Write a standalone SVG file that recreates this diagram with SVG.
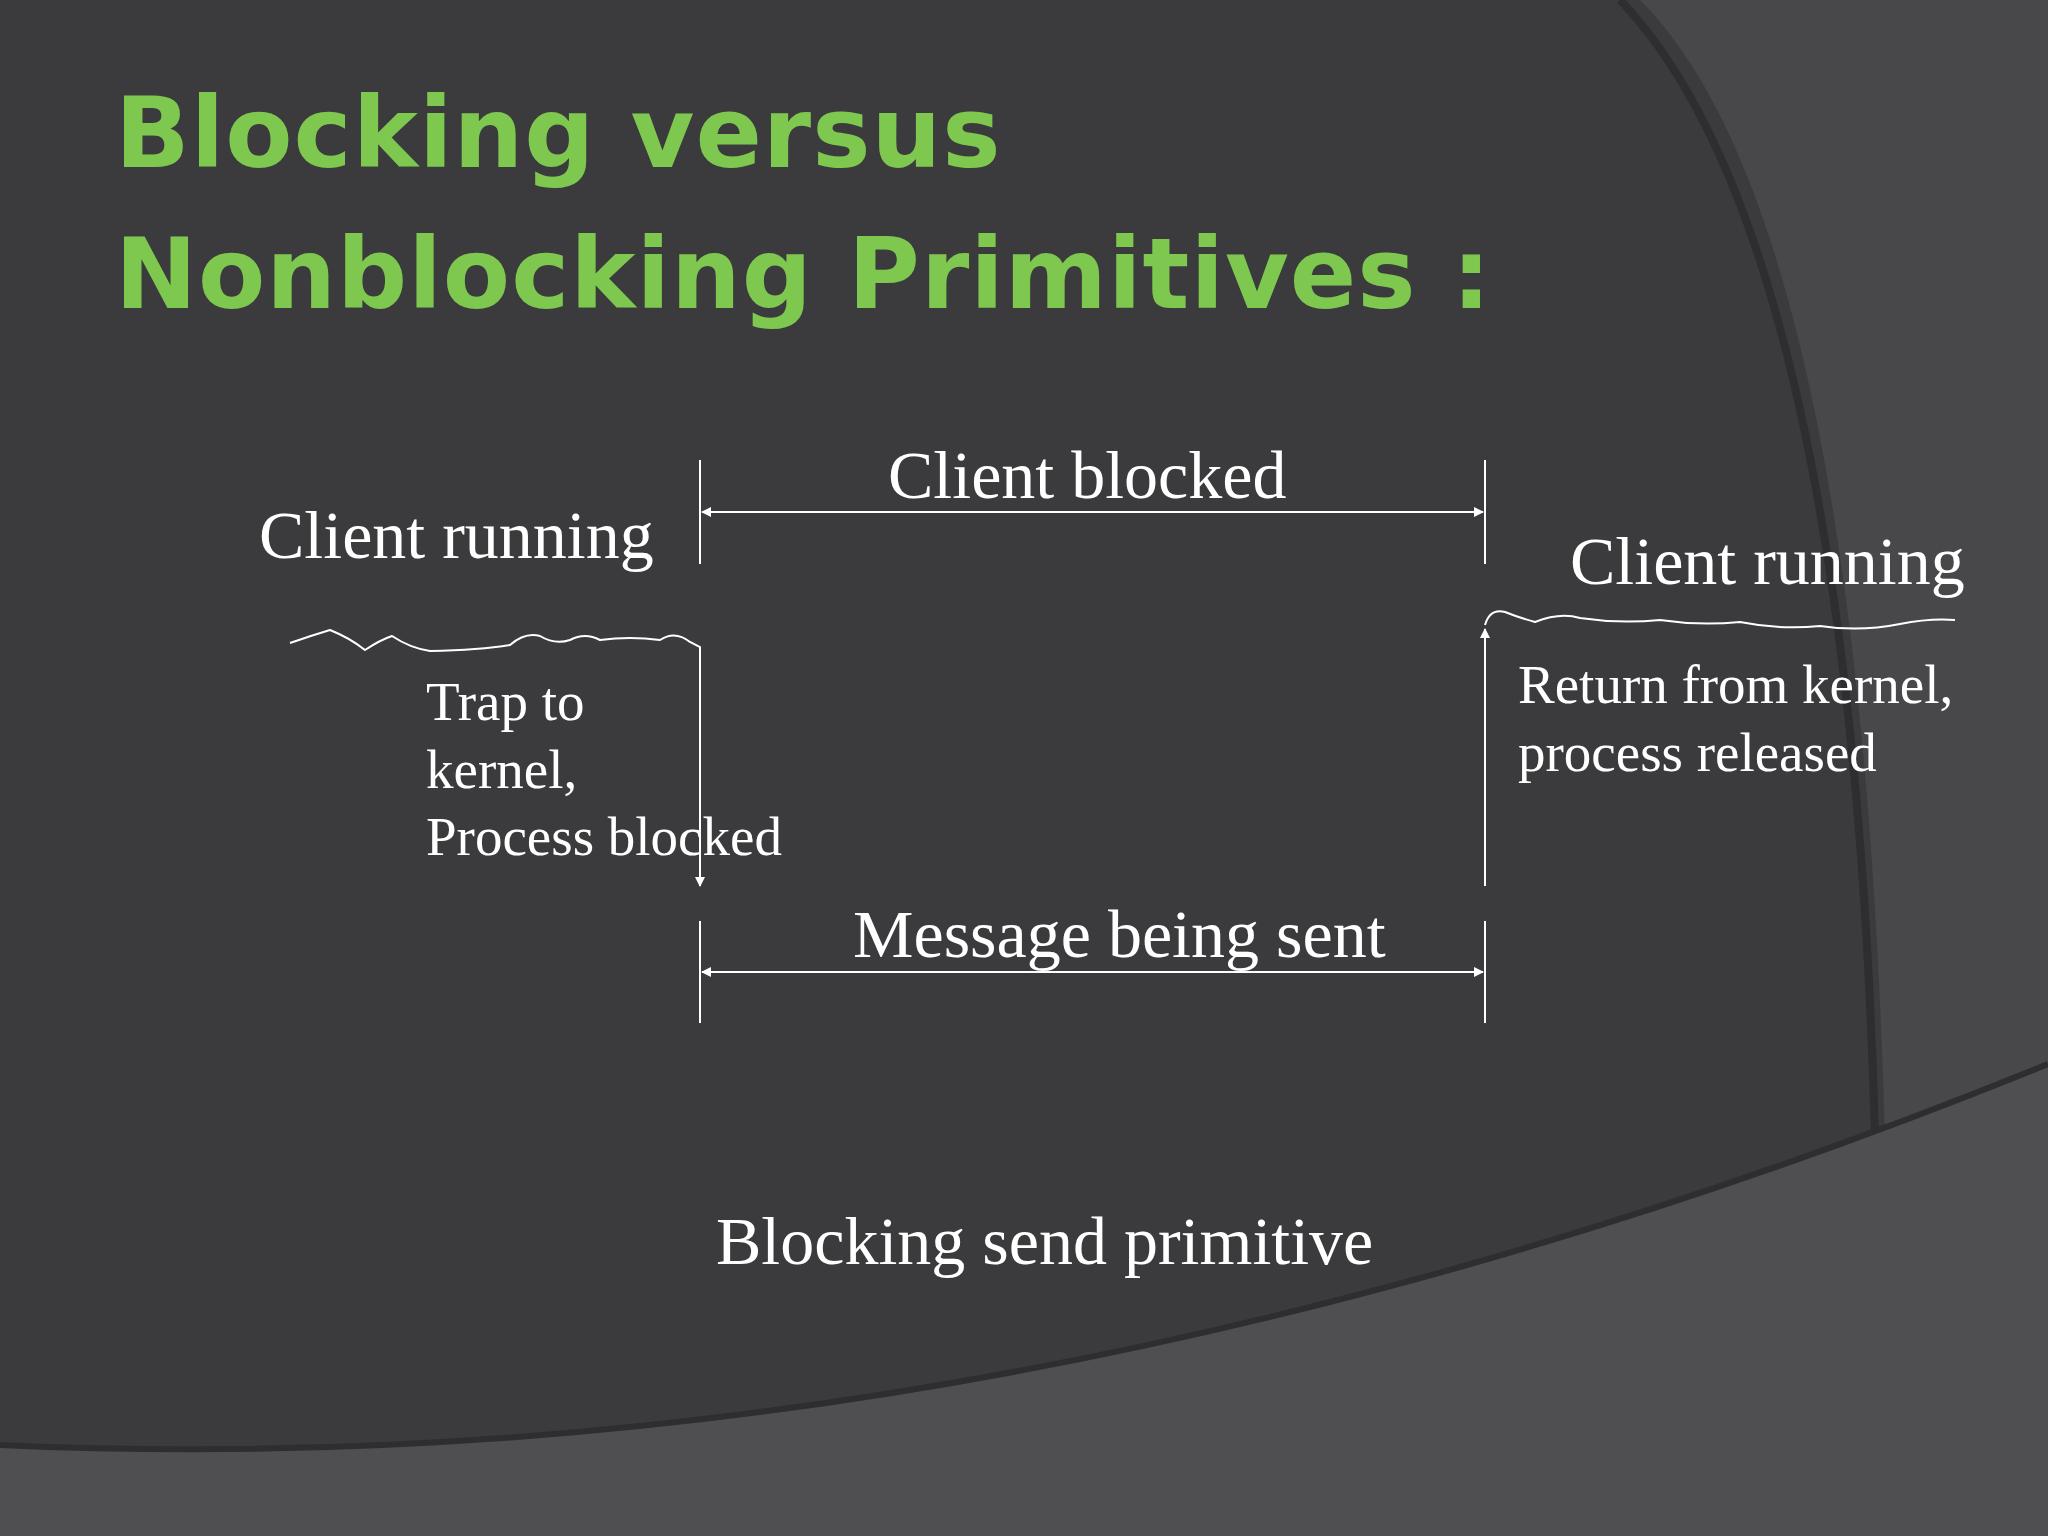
<svg xmlns="http://www.w3.org/2000/svg" width="2048" height="1536" viewBox="0 0 2048 1536">
<defs>
<marker id="ah" markerWidth="10" markerHeight="10" refX="9" refY="5" orient="auto" markerUnits="userSpaceOnUse"><path d="M0,0 L10,5 L0,10 z" fill="#fff"/></marker>
<style>
.t{font-family:"Liberation Serif",serif;fill:#fff}
.h{font-family:"DejaVu Sans","Liberation Sans",sans-serif;fill:#7ec850;font-size:98px;font-weight:bold;letter-spacing:1px}
.l{stroke:#fff;stroke-width:2;fill:none}
</style>
</defs>
<rect width="2048" height="1536" fill="#3b3b3d"/>
<path d="M1640,0 Q1860,220 1885,1140 L2048,1070 L2048,0 Z" fill="#48484a"/>
<path d="M1620,0 Q1850,240 1875,1136" stroke="#2e2e30" stroke-width="8" fill="none"/>
<path d="M0,1445 Q1000,1490 2048,1064 L2048,1536 L0,1536 Z" fill="#4f4f51"/>
<path d="M0,1445 Q1000,1490 2048,1064" stroke="#2e2e30" stroke-width="6" fill="none"/>
<text class="h" x="115" y="167">Blocking versus</text>
<text class="h" x="115" y="308">Nonblocking Primitives :</text>
<g id="connectors">
<line class="l" x1="700" y1="460" x2="700" y2="564"/>
<line class="l" x1="1485" y1="460" x2="1485" y2="564"/>
<path class="l" d="M702,512 L1483,512" marker-end="url(#ah)"/>
<path class="l" d="M1483,512 L702,512" marker-end="url(#ah)"/>
<line class="l" x1="700" y1="921" x2="700" y2="1023"/>
<line class="l" x1="1485" y1="921" x2="1485" y2="1023"/>
<path class="l" d="M702,972 L1483,972" marker-end="url(#ah)"/>
<path class="l" d="M1483,972 L702,972" marker-end="url(#ah)"/>
<path class="l" d="M290,643 Q310,636 330,630 Q350,638 365,650 Q380,640 392,636 Q410,648 430,651 Q480,650 510,645 Q525,632 540,636 Q555,645 570,640 Q585,632 600,640 Q630,636 660,640 Q675,630 690,642 L700,647 L700,886" marker-end="url(#ah)"/>
<path class="l" d="M1485,886 L1485,629" marker-end="url(#ah)"/>
<path class="l" d="M1485,625 Q1490,608 1505,612 Q1520,618 1535,622 Q1560,612 1580,618 Q1620,624 1660,620 Q1700,626 1740,622 Q1780,630 1820,626 Q1860,632 1900,624 Q1930,618 1955,620"/>
</g>
<g id="labels">
<text class="t" x="259" y="558" font-size="68">Client running</text>
<text class="t" x="888" y="498" font-size="68">Client blocked</text>
<text class="t" x="1570" y="584" font-size="68">Client running</text>
<text class="t" x="426" y="720" font-size="55">Trap to</text>
<text class="t" x="426" y="788" font-size="55">kernel,</text>
<text class="t" x="426" y="855" font-size="55">Process blocked</text>
<text class="t" x="1518" y="703" font-size="55">Return from kernel,</text>
<text class="t" x="1518" y="771" font-size="55">process released</text>
<text class="t" x="853" y="957" font-size="68">Message being sent</text>
<text class="t" x="716" y="1264" font-size="68">Blocking send primitive</text>
</g>
</svg>
